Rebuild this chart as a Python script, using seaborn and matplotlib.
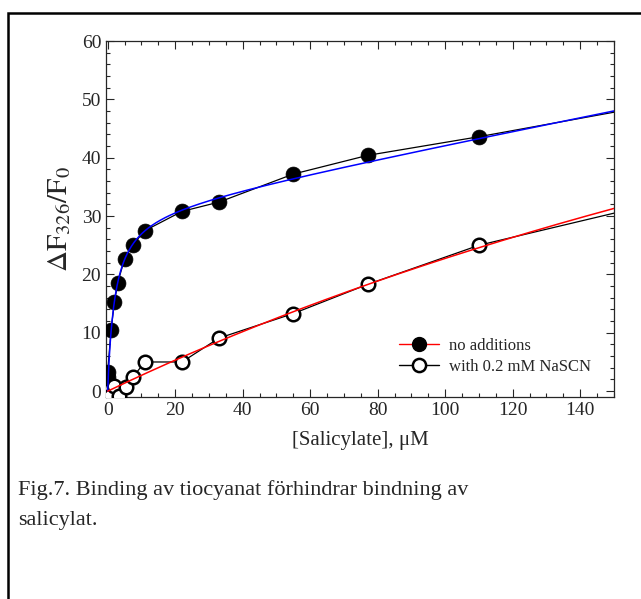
import numpy as np
import pandas as pd
import matplotlib
matplotlib.use('Agg')
import matplotlib.pyplot as plt
from matplotlib.lines import Line2D
from matplotlib.patches import Rectangle
from matplotlib.ticker import MultipleLocator
import seaborn as sns

# Measured points, no additions (filled circles)
conc_filled = [0, 0, 1, 2, 3, 5, 7.5, 11, 22, 33, 55, 77, 110]
dF_filled = [2.5, 3.3, 10.5, 15.3, 18.6, 22.7, 25.1, 27.5, 30.8, 32.4, 37.2, 40.4, 43.6]

# Measured points, with 0.2 mM NaSCN (open circles)
conc_open = [0, 0.7, 1.9, 3.4, 5.4, 7.6, 11, 22, 33, 55, 77, 110]
dF_open = [0.0, -0.9, 0.9, -0.9, 0.7, 2.5, 5.0, 5.0, 9.1, 13.3, 18.3, 25.0]

# Where the black connecting lines end at the right edge
tail_conc = 150
tail_filled = 47.8
tail_open = 30.5

# Fitted curves: hyperbola + linear (blue), hyperbola (red)
fit_blue = dict(bmax=31.2, kd=2.1, slope=0.115)
fit_red = dict(bmax=126.5, kd=456)

sns.set_style("ticks")
plt.rcParams['font.family'] = ['Liberation Serif', 'DejaVu Serif']
plt.rcParams['mathtext.fontset'] = 'stix'

fig = plt.figure(figsize=(6.41, 5.99), dpi=100)
ax = fig.add_axes([106 / 641, 202 / 599, 508 / 641, 356 / 599])

# Outer frame of the figure box
fig.patches.append(Rectangle((8 / 641, -0.2), 2.0, 1.2 - 13 / 599, transform=fig.transFigure,
                             fill=False, edgecolor='black', linewidth=1.8))

df_f = pd.DataFrame({'x': conc_filled + [tail_conc], 'y': dF_filled + [tail_filled]})
df_o = pd.DataFrame({'x': conc_open + [tail_conc], 'y': dF_open + [tail_open]})

sns.lineplot(data=df_f, x='x', y='y', estimator=None, sort=False, color='black', linewidth=0.9, ax=ax)
sns.lineplot(data=df_o, x='x', y='y', estimator=None, sort=False, color='black', linewidth=0.9, ax=ax)

sns.scatterplot(x=conc_filled, y=dF_filled, color='black', s=115, edgecolor='black', linewidth=0.5,
                ax=ax, zorder=3)
sns.scatterplot(x=conc_open, y=dF_open, facecolor='white', s=95, edgecolor='black', linewidth=1.8,
                ax=ax, zorder=3)

xs = np.linspace(0, 150, 600)
blue = fit_blue['bmax'] * xs / (fit_blue['kd'] + xs) + fit_blue['slope'] * xs
red = fit_red['bmax'] * xs / (fit_red['kd'] + xs)
sns.lineplot(x=xs, y=blue, color='#0000ff', linewidth=1.1, ax=ax, zorder=4)
sns.lineplot(x=xs, y=red, color='#ff0000', linewidth=1.1, ax=ax, zorder=4)

ax.set_xlim(-0.5, 150)
ax.set_ylim(-1, 60)
ax.xaxis.set_major_locator(MultipleLocator(20))
ax.xaxis.set_minor_locator(MultipleLocator(5))
ax.yaxis.set_major_locator(MultipleLocator(10))
ax.yaxis.set_minor_locator(MultipleLocator(2))
ax.tick_params(which='both', direction='in', top=True, right=True, width=0.8, labelsize=14)
ax.tick_params(which='major', length=6)
ax.tick_params(which='minor', length=3)
for s in ax.spines.values():
    s.set_linewidth(0.9)

ax.set_xlabel('[Salicylate], \u03bcM', fontsize=15, labelpad=9)
ax.set_ylabel(r'$\Delta\mathrm{F}_{326}/\mathrm{F}_{0}$', fontsize=21, labelpad=6)

handles = [
    Line2D([], [], color='red', linewidth=1.0, marker='o', markersize=10,
           markerfacecolor='black', markeredgecolor='black'),
    Line2D([], [], color='black', linewidth=1.0, marker='o', markersize=9.5,
           markerfacecolor='white', markeredgecolor='black', markeredgewidth=1.8),
]
ax.legend(handles, ['no additions', 'with 0.2 mM NaSCN'], loc='lower right',
          bbox_to_anchor=(0.985, 0.02), frameon=False, fontsize=12, handlelength=2.4,
          labelspacing=0.3, handletextpad=0.6)

fig.text(18 / 641, 1 - 505 / 599, 'Fig.7. Binding av tiocyanat förhindrar bindning av\nsalicylat.',
         fontsize=16, va='center', ha='left', linespacing=1.8)

fig.savefig('out.png', dpi=100)
